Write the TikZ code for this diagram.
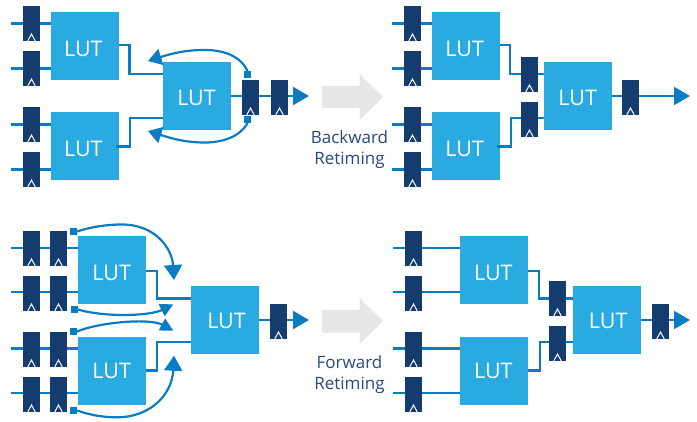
\documentclass[tikz,border=0pt]{standalone}
\usepackage{fontspec}
\setmainfont{Open Sans}
\usetikzlibrary{arrows.meta,backgrounds}
\definecolor{lutblue}{HTML}{29ABE2}
\definecolor{wireblue}{HTML}{0A7CC4}
\definecolor{ffnavy}{HTML}{153C6E}
\definecolor{biggray}{HTML}{E6E7E8}
\definecolor{labelnavy}{HTML}{2A4A7C}
% LUT caption with a small offset from the box centre (twice dx, dy); 7.7pt is half the cap height
\newcommand{\luttext}[2]{\smash{\hbox to 0pt{\hss\kern#1pt\raisebox{\dimexpr#2pt-7.7pt\relax}{LUT}\hss}}}
\tikzset{
  lutbox/.style={fill=lutblue,minimum size=68pt,inner sep=0pt,outer sep=0pt,text=white,font=\fontsize{21.5}{21.5}\selectfont},
  ffbox/.style={fill=ffnavy,minimum width=17pt,minimum height=35pt,inner sep=0pt,outer sep=0pt,
    path picture={\draw[white,line width=1pt] ([shift={(-3.8pt,0pt)}]path picture bounding box.south) -- ++(3.8pt,7pt) -- ++(3.8pt,-7pt);}},
  sqbox/.style={fill=wireblue,minimum size=7pt,inner sep=0pt,outer sep=0pt},
  wire/.style={draw=wireblue,line width=2.2pt},
  outwire/.style={wire,-{Triangle[length=16pt,width=18pt]}},
  movebig/.style={wire,-{Triangle[length=15pt,width=18pt]}},
  movemid/.style={wire,-{Triangle[length=13.5pt,width=16.5pt]}},
  movesmall/.style={wire,-{Triangle[length=13pt,width=13pt]}},
  bigarrow/.style={fill=biggray},
  retimelabel/.style={text=labelnavy,font=\fontsize{17}{17}\selectfont,inner sep=0pt,anchor=base},
}
\begin{document}
\begin{tikzpicture}[x=1pt,y=-1pt]
\useasboundingbox (0,0) rectangle (697,421);

% ---------- top left: before backward retiming
\node[lutbox] (al1) at (85,46) {\luttext{-3.4}{-3}};
\node[lutbox] (al2) at (85,146) {\luttext{-3.4}{-3}};
\node[lutbox] (al3) at (197,96) {\luttext{-1}{-1.3}};
\node[ffbox] (af1) at (31.5,23.5) {};
\node[ffbox] (af2) at (31.5,68.5) {};
\node[ffbox] (af3) at (31.5,124.5) {};
\node[ffbox] (af4) at (31.5,169.5) {};
\node[ffbox] (af5) at (250.5,97.5) {};
\node[ffbox] (af6) at (279.5,97.5) {};
\node[sqbox] (as1) at (247.5,74.5) {};
\node[sqbox] (as2) at (247.5,119.5) {};
\coordinate (ai1) at (11,23.5);
\coordinate (ai2) at (11,68.5);
\coordinate (ai3) at (11,124.5);
\coordinate (ai4) at (11,169.5);
\coordinate (aout) at (309,96);
\coordinate (at1) at (148,61);
\coordinate (at2) at (148,131);
\begin{scope}[on background layer]
  \draw[wire] (ai1) -- (ai1 -| al1.west);
  \draw[wire] (ai2) -- (ai2 -| al1.west);
  \draw[wire] (ai3) -- (ai3 -| al2.west);
  \draw[wire] (ai4) -- (ai4 -| al2.west);
  \draw[outwire] (al3.east) -- (aout);
\end{scope}
\draw[wire] ([yshift=1pt]al1.east) -- ++(10.5pt,0pt) |- ([yshift=22pt]al3.west);
\draw[wire] ([shift={(-3pt,-.5pt)}]al2.east) -- ++(14pt,0pt) |- ([yshift=-22pt]al3.west);
\draw[movemid] (as1.north) .. controls (240,55) and (222,50) .. (205,50) .. controls (187,50) and (175,52.5) .. (at1);
\draw[movemid] (as2.south) .. controls (240,137) and (222,142.5) .. (205,142.5) .. controls (187,142.5) and (175,139.5) .. (at2);

% ---------- top right: after backward retiming
\node[lutbox] (bl1) at (466,46) {\luttext{-2.6}{-3}};
\node[lutbox] (bl2) at (466,146) {\luttext{-2.6}{-3}};
\node[lutbox] (bl3) at (578,96) {\luttext{-.6}{-1.3}};
\node[ffbox] (bf1) at (412.5,23.5) {};
\node[ffbox] (bf2) at (412.5,68.5) {};
\node[ffbox] (bf3) at (412.5,124.5) {};
\node[ffbox] (bf4) at (412.5,169.5) {};
\node[ffbox] (bf5) at (529.5,74.5) {};
\node[ffbox] (bf6) at (529.5,119.5) {};
\node[ffbox] (bf7) at (630.5,97.5) {};
\coordinate (bi1) at (392,23.5);
\coordinate (bi2) at (392,68.5);
\coordinate (bi3) at (392,124.5);
\coordinate (bi4) at (392,169.5);
\coordinate (bout) at (690,96);
\begin{scope}[on background layer]
  \draw[wire] (bi1) -- (bi1 -| bl1.west);
  \draw[wire] (bi2) -- (bi2 -| bl1.west);
  \draw[wire] (bi3) -- (bi3 -| bl2.west);
  \draw[wire] (bi4) -- (bi4 -| bl2.west);
  \draw[outwire] (bl3.east) -- (bout);
  \draw[wire] ([yshift=1pt]bl1.east) -- ++(10pt,0pt) |- ([yshift=22pt]bl3.west);
  \draw[wire] ([yshift=-.5pt]bl2.east) -- ++(11pt,0pt) |- ([yshift=-22pt]bl3.west);
\end{scope}
\draw[wire] ([shift={(-3pt,-.5pt)}]bl2.east) -- ++(3pt,0pt);

% ---------- big arrows and labels
\path[bigarrow] (322,86) -- (359.5,86) -- (359.5,74) -- (383,97) -- (359.5,120) -- (359.5,108) -- (322,108) -- cycle;
\node[retimelabel] (lb1) at (349.5,143.3) {Backward};
\node[retimelabel] (lb2) at (349.5,164.3) {Retiming};
\path[bigarrow] (322,310) -- (359.5,310) -- (359.5,298) -- (383,321) -- (359.5,344) -- (359.5,332.5) -- (322,332.5) -- cycle;
\node[retimelabel] (lf1) at (349.5,368.7) {Forward};
\node[retimelabel] (lf2) at (349.5,389) {Retiming};

% ---------- bottom left: before forward retiming
\node[lutbox] (cl1) at (112,270) {\luttext{-.6}{-2.3}};
\node[lutbox] (cl2) at (112,371) {\luttext{-.6}{0}};
\node[lutbox] (cl3) at (225,320) {\luttext{3}{-1}};
\foreach \n/\y in {1/248.5,2/293.5,3/349.5,4/394.5}{
  \node[ffbox] (cf\n) at (31.5,\y) {};
  \node[ffbox] (cg\n) at (58.5,\y) {};
}
\node[ffbox] (ch) at (278.5,321.5) {};
\node[sqbox] (cs1) at (73.5,231.5) {};
\node[sqbox] (cs2) at (74.5,309.5) {};
\node[sqbox] (cs3) at (73.5,331.5) {};
\node[sqbox] (cs4) at (73.5,410.5) {};
\coordinate (ci1) at (11,248);
\coordinate (ci2) at (11,292);
\coordinate (ci3) at (11,348.5);
\coordinate (ci4) at (11,393);
\coordinate (cout) at (309,320);
\coordinate (ct1) at (174,280);
\coordinate (ct2) at (173.3,304.3);
\coordinate (ct3) at (173.3,330.7);
\coordinate (ct4) at (174,355.7);
\begin{scope}[on background layer]
  \draw[wire] (ci1) -- (ci1 -| cl1.west);
  \draw[wire] (ci2) -- (ci2 -| cl1.west);
  \draw[wire] (ci3) -- (ci3 -| cl2.west);
  \draw[wire] (ci4) -- (ci4 -| cl2.west);
  \draw[outwire] (cl3.east) -- (cout);
\end{scope}
\draw[wire] ([yshift=-1pt]cl1.east) -- ++(11pt,0pt) |- ([yshift=21.5pt]cl3.west);
\draw[wire] ([yshift=.5pt]cl2.east) -- ++(11pt,0pt) |- ([yshift=-22pt]cl3.west);
\draw[movebig] (cs1.east) .. controls (92,226.5) and (108,224.5) .. (122,224.5) .. controls (155,224.5) and (172,248) .. (ct1);
\draw[movesmall] (cs2.east) .. controls (105,317.5) and (150,316) .. (ct2);
\draw[movesmall] (cs3.east) .. controls (100,322) and (150,318) .. (ct3);
\draw[movebig] (cs4.east) .. controls (90,415) and (103,417.3) .. (117,417.3) .. controls (150,417.3) and (172,395) .. (ct4);

% ---------- bottom right: after forward retiming
\node[lutbox] (dl1) at (494,270) {\luttext{-1.4}{-2.3}};
\node[lutbox] (dl2) at (494,371) {\luttext{-1.4}{0}};
\node[lutbox] (dl3) at (607,320) {\luttext{2.3}{-1}};
\foreach \n/\y in {1/248.5,2/293.5,3/349.5,4/394.5}{
  \node[ffbox] (df\n) at (413.5,\y) {};
}
\node[ffbox] (df5) at (557.5,298.5) {};
\node[ffbox] (df6) at (557.5,343.5) {};
\node[ffbox] (df7) at (660.5,321.5) {};
\coordinate (di1) at (393,248);
\coordinate (di2) at (393,292);
\coordinate (di3) at (393,348.5);
\coordinate (di4) at (393,393);
\coordinate (dout) at (690,320);
\begin{scope}[on background layer]
  \draw[wire] (di1) -- (di1 -| dl1.west);
  \draw[wire] (di2) -- (di2 -| dl1.west);
  \draw[wire] (di3) -- (di3 -| dl2.west);
  \draw[wire] (di4) -- (di4 -| dl2.west);
  \draw[outwire] (dl3.east) -- (dout);
  \draw[wire] ([yshift=-1pt]dl1.east) -- ++(11pt,0pt) |- ([yshift=21.5pt]dl3.west);
  \draw[wire] ([yshift=.5pt]dl2.east) -- ++(12pt,0pt) |- ([yshift=-22pt]dl3.west);
\end{scope}
\end{tikzpicture}
\end{document}
